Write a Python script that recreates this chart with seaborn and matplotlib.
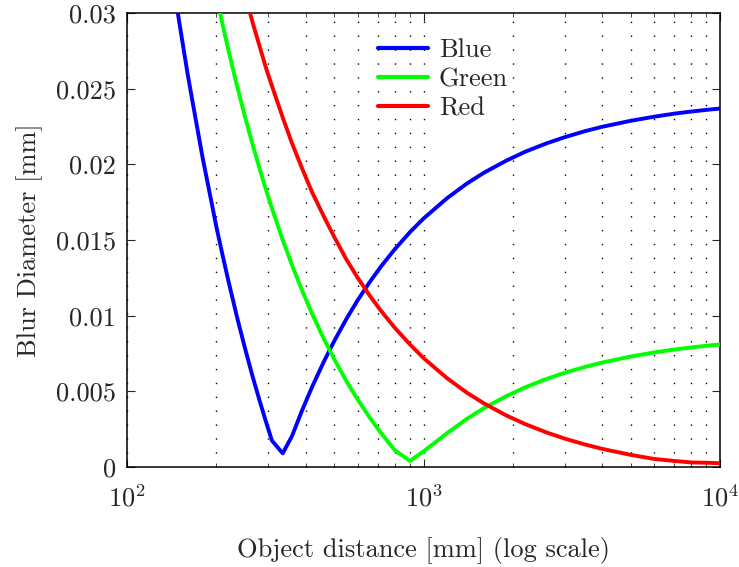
import numpy as np
import pandas as pd
import matplotlib
matplotlib.use("Agg")
import matplotlib.pyplot as plt
import seaborn as sns
from matplotlib.ticker import LogLocator, FixedLocator

# ---- data ----
distance = [100, 110, 120, 130, 140, 150, 160, 170, 180, 190, 200, 210, 220, 235, 250,
            265, 280, 295, 308, 335, 360, 390, 420, 460, 500, 550, 600, 660, 720, 800,
            900, 1000, 1200, 1400, 1600, 1900, 2200, 2600, 3000, 3500, 4000, 5000, 6000,
            7000, 8000, 9000, 10000]

blue = [0.0564, 0.049, 0.0429, 0.0377, 0.0333, 0.0294, 0.0260, 0.0231, 0.0204, 0.0181,
        0.0159, 0.0140, 0.01225, 0.0099, 0.00784, 0.0060, 0.00438, 0.00291, 0.00175, 0.0009,
        0.00204, 0.00377, 0.00525, 0.00692, 0.00833, 0.0098, 0.01103, 0.01225, 0.01327, 0.01439,
        0.01552, 0.01642, 0.01776, 0.01873, 0.01945, 0.02024, 0.02083, 0.02139, 0.0218, 0.02219,
        0.02248, 0.02288, 0.02315, 0.02335, 0.02349, 0.0236, 0.02369]

green = [0.0712, 0.0639, 0.0579, 0.0527, 0.0483, 0.0445, 0.0412, 0.0382, 0.0356, 0.03326,
         0.03115, 0.02924, 0.02751, 0.02519, 0.02314, 0.02133, 0.01971, 0.01825, 0.01711, 0.01501,
         0.01335, 0.01164, 0.01017, 0.00851, 0.00712, 0.00566, 0.00445, 0.00324, 0.00223, 0.00111,
         0.0004, 0.00103, 0.00223, 0.00318, 0.00389, 0.00468, 0.00526, 0.00582, 0.00623, 0.00661,
         0.0069, 0.0073, 0.00757, 0.00776, 0.0079, 0.00801, 0.0081]

red = [0.0792, 0.0719, 0.0659, 0.0607, 0.0563, 0.0525, 0.0492, 0.0462, 0.0436, 0.0413,
       0.0392, 0.0373, 0.0356, 0.0332, 0.0312, 0.0294, 0.0278, 0.0263, 0.0252, 0.0231,
       0.0214, 0.0197, 0.0182, 0.0166, 0.0152, 0.0137, 0.0125, 0.0113, 0.0103, 0.0092,
       0.0081, 0.0072, 0.00587, 0.00491, 0.0042, 0.00341, 0.00284, 0.00228, 0.00187, 0.00149,
       0.0012, 0.0008, 0.00053, 0.0004, 0.0003, 0.00028, 0.00025]

channels = ["Blue", "Green", "Red"]
colors = {"Blue": "#0000ff", "Green": "#00ff00", "Red": "#ff0000"}

y_ticks = [0, 0.005, 0.01, 0.015, 0.02, 0.025, 0.03]
y_tick_labels = ["0", "0.005", "0.01", "0.015", "0.02", "0.025", "0.03"]

df = pd.DataFrame({
    "distance": distance * 3,
    "blur": blue + green + red,
    "channel": ["Blue"] * len(distance) + ["Green"] * len(distance) + ["Red"] * len(distance),
})

# ---- style ----
sns.set_theme(style="ticks")
plt.rcParams["font.family"] = ["cmr10", "DejaVu Serif"]
plt.rcParams["mathtext.fontset"] = "cm"
plt.rcParams["axes.formatter.use_mathtext"] = True
plt.rcParams["axes.unicode_minus"] = False

fig = plt.figure(figsize=(7.39, 5.67), dpi=100)
ax = fig.add_axes([0.1719, 0.1764, 0.9743 - 0.1719, 0.977 - 0.1764])

sns.lineplot(data=df, x="distance", y="blur", hue="channel", hue_order=channels,
             palette=colors, linewidth=2.8, estimator=None, ax=ax, zorder=3)

ax.set_xscale("log")
ax.set_xlim(100, 10000)
ax.set_ylim(0, 0.03)
ax.set_yticks(y_ticks)
ax.set_yticklabels(y_tick_labels)
ax.xaxis.set_major_locator(FixedLocator([100, 1000, 10000]))
ax.xaxis.set_minor_locator(LogLocator(base=10, subs=np.arange(2, 10), numticks=20))

fs = 19
ax.tick_params(axis="both", which="major", direction="in", length=6, width=0.8,
               top=True, right=True, labelsize=fs, pad=8)
ax.tick_params(axis="x", which="major", pad=13)
ax.tick_params(axis="x", which="minor", direction="in", length=3, width=0.6,
               top=True, bottom=True)

for s in ax.spines.values():
    s.set_linewidth(1.1)
    s.set_color("black")

# vertical dotted grid (major + minor), no horizontal grid
ax.grid(False)
ax.xaxis.grid(True, which="both", color="black", linewidth=1.0,
              linestyle=(0, (1, 9)))
ax.set_axisbelow(True)

ax.set_xlabel("Object distance [mm] (log scale)", fontsize=fs, labelpad=18)
ax.set_ylabel("Blur Diameter [mm]", fontsize=fs, labelpad=9.5)

leg = ax.legend(loc="upper left", bbox_to_anchor=(0.392, 0.985), frameon=False,
                fontsize=fs, handlelength=1.9, handletextpad=0.4, labelspacing=0.2,
                borderaxespad=0.3)
for h in leg.get_lines():
    h.set_linewidth(3)

fig.savefig("out.png", dpi=100)
